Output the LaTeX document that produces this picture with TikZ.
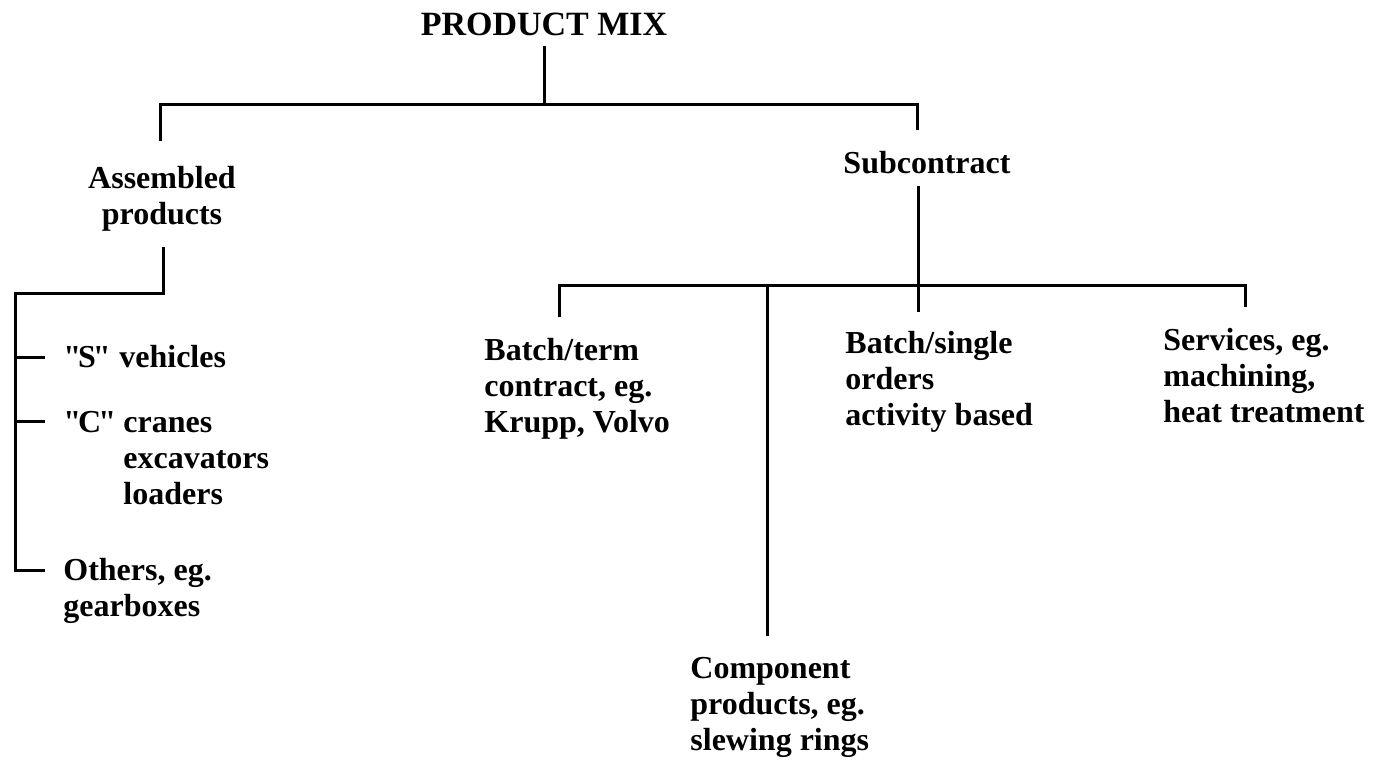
\documentclass[tikz,border=0pt]{standalone}
\usepackage{fontspec}
\setmainfont{Liberation Serif}
% bold serif without the TeX input mapping, so that " stays a straight quote
\font\qf="Liberation Serif/B" at 16pt
\newcommand{\qt}[1]{{\qf"}\kern-1.5pt#1\kern-1.5pt{\qf"}}
\begin{document}
\begin{tikzpicture}[x=0.5pt,y=-0.5pt,
  lbl/.style={inner sep=0pt, align=left, font=\fontsize{16}{18}\selectfont\bfseries},
  link/.style={line width=1.5pt, line join=miter}]
\useasboundingbox (0,0) rectangle (1380,760);

% labels (base anchor of a multi-line label is its last line)
\node[lbl, font=\fontsize{17}{20}\selectfont\bfseries, anchor=base] (title) at (544,35) {PRODUCT MIX};
\node[lbl, align=center, anchor=base] (asm) at (162,224) {Assembled\\products};
\node[lbl, anchor=base] (sub) at (927,173) {Subcontract};
\node[lbl, anchor=base west] (sv) at (63,367) {\makebox[28pt][l]{\qt{S}}vehicles};
\node[lbl, anchor=base west] (cv) at (63,504) {\makebox[30pt][l]{\qt{C}}cranes\\\hspace*{30pt}excavators\\\hspace*{30pt}loaders};
\node[lbl, anchor=base west] (oth) at (63,616) {Others, eg.\\gearboxes};
\node[lbl, anchor=base west] (bt) at (484,432) {Batch/term\\contract, eg.\\Krupp, Volvo};
\node[lbl, anchor=base west] (bs) at (845,425) {Batch/single\\orders\\activity based};
\node[lbl, anchor=base west] (svc) at (1163,422) {Services, eg.\\machining,\\heat treatment};
\node[lbl, anchor=base west] (cmp) at (690,750) {Component\\products, eg.\\slewing rings};

% junction points of the tree
\coordinate (tbL) at (160,104);
\coordinate (tbR) at (917,104);
\coordinate (abR) at (163,293);
\coordinate (abL) at (15,293);
\coordinate (tkS) at (45,357);
\coordinate (tkC) at (45,421);
\coordinate (tkO) at (45,570);
\coordinate (sbL) at (559,285);
\coordinate (sbC) at (767,285);
\coordinate (sbM) at (918,285);
\coordinate (sbR) at (1245,285);

% top level
\draw[link, shorten <=5pt] (title.south) -- (title.south |- tbL);
\draw[link, shorten <=12pt, shorten >=10pt] (tbL |- asm.north) -- (tbL) -- (tbR) -- (tbR |- sub.north);

% assembled products branch
\draw[link, shorten <=8pt] (asm.south -| abR) -- (abR) -- (abL) -- (abL |- tkO) -- (tkO);
\draw[link] (abL |- tkS) -- (tkS);
\draw[link] (abL |- tkC) -- (tkC);

% subcontract branch
\draw[link, shorten <=6pt, shorten >=9pt] (sub.south -| sbM) -- (sbM |- bs.north);
\draw[link, shorten <=10pt, shorten >=10pt] (bt.north -| sbL) -- (sbL) -- (sbR) -- (sbR |- svc.north);
\draw[link, shorten >=10pt] (sbC) -- (sbC |- cmp.north);
\end{tikzpicture}
\end{document}
